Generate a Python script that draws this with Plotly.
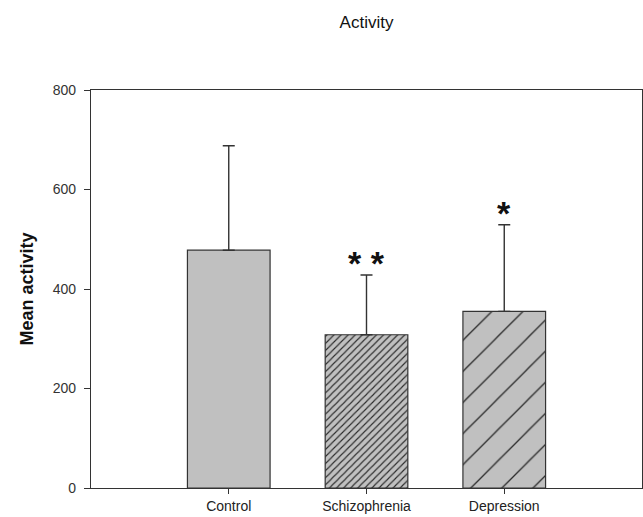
import plotly.graph_objects as go

# -----------------------------
# data
# -----------------------------
groups = ["Control", "Schizophrenia", "Depression"]
mean_activity = [478, 308, 355]
sd_activity = [210, 120, 174]
stars = ["", "* *", "*"]
hatch = ["", "/", "/"]
hatch_size = [8, 5, 22]

x_pos = list(range(len(groups)))

fig = go.Figure()

for i, g in enumerate(groups):
    fig.add_trace(go.Bar(
        x=[x_pos[i]],
        y=[mean_activity[i]],
        width=0.6,
        marker=dict(
            color="#c0c0c0",
            line=dict(color="#333333", width=1.2),
            pattern=dict(shape=hatch[i], size=hatch_size[i], solidity=0.06 if hatch_size[i] > 10 else 0.22,
                         fgcolor="#2a2a2a", bgcolor="#c0c0c0", fillmode="replace"),
        ),
        error_y=dict(type="data", symmetric=False, array=[sd_activity[i]], arrayminus=[0],
                     color="#333333", thickness=1.4, width=6),
        showlegend=False,
        name=g,
    ))

# significance stars above the error bars
for i, s in enumerate(stars):
    if s:
        fig.add_annotation(
            x=x_pos[i], y=mean_activity[i] + sd_activity[i],
            xref="x", yref="y", text="<b>" + s + "</b>", showarrow=False,
            yanchor="middle", yshift=12,
            font=dict(family="Liberation Sans", size=34, color="#111111"),
        )

fig.update_layout(
    width=643, height=517,
    margin=dict(l=91, r=1, t=90, b=29),
    paper_bgcolor="white", plot_bgcolor="white",
    title=dict(text="Activity", xref="paper", x=0.5, xanchor="center",
               y=1 - 22 / 517, yanchor="middle",
               font=dict(family="Liberation Sans", size=17, color="#111111")),
    font=dict(family="Liberation Sans", color="#222222"),
)

fig.update_xaxes(
    range=[-1, 3],
    tickmode="array", tickvals=x_pos, ticktext=groups,
    ticks="outside", ticklen=5, tickcolor="#333333",
    showline=True, linecolor="#333333", linewidth=1.3, mirror=True,
    showgrid=False, zeroline=False,
    tickfont=dict(family="Liberation Sans", size=14, color="#222222"),
)
fig.update_yaxes(
    range=[0, 800],
    tickvals=[0, 200, 400, 600, 800],
    ticks="outside", ticklen=6, tickcolor="#333333",
    ticklabelstandoff=5,
    showline=True, linecolor="#333333", linewidth=1.3, mirror=True,
    showgrid=False, zeroline=False,
    tickfont=dict(family="Liberation Sans", size=14, color="#333333"),
    title=dict(text="<b>Mean activity</b>", standoff=14,
               font=dict(family="Liberation Sans", size=18, color="#111111")),
)

# drop the page's default body margin so the 643x517 figure fills the window
fig.write_html("out.html", config={"displayModeBar": False},
               post_script="document.body.style.margin='0';document.body.style.overflow='hidden';")
